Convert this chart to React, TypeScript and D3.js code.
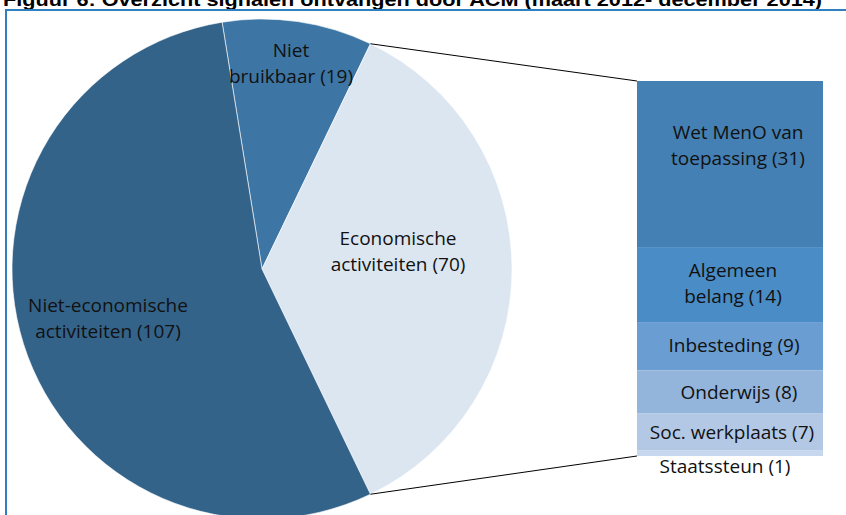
import React from "react";
import * as d3 from "d3";

const pieLabels = ["Niet bruikbaar (19)", "Economische activiteiten (70)", "Niet-economische activiteiten (107)"];
const pieValues = [19, 70, 107];
const pieColors = ["#3d76a4", "#dce6f1", "#34638a"];

const barLabels = ["Wet MenO van toepassing (31)", "Algemeen belang (14)", "Inbesteding (9)", "Onderwijs (8)", "Soc. werkplaats (7)", "Staatssteun (1)"];
const barValues = [31, 14, 9, 8, 7, 1];
const barColors = ["#4480b3", "#4a8cc5", "#6a9dd1", "#93b4db", "#b2c8e4", "#c7d7ed"];

const titleText = "Figuur 6: Overzicht signalen ontvangen door ACM (maart 2012- december 2014)";

const W = 846, H = 515;
const FONT = "'Open Sans', Lato, sans-serif";

export default function App() {
  const cx = 262, cy = 269, R = 250;
  const total = d3.sum(pieValues);
  const otherIdx = 1;
  const otherSpan = (pieValues[otherIdx] / total) * 2 * Math.PI;
  const start = Math.PI / 2 - otherSpan / 2 - (pieValues[0] / total) * 2 * Math.PI;
  const pie = d3.pie<number>().sort(null).startAngle(start).endAngle(start + 2 * Math.PI);
  const arcs = pie(pieValues);
  const arc = d3.arc<d3.PieArcDatum<number>>().innerRadius(0).outerRadius(R);

  const barX = 637, barW = 186, barTop = 81, barBottom = 456;
  const cum = d3.cumsum(barValues);
  const y = d3.scaleLinear().domain([0, d3.sum(barValues)]).range([barTop, barBottom]);

  const oa = arcs[otherIdx];
  const p1 = [cx + R * Math.sin(oa.startAngle), cy - R * Math.cos(oa.startAngle)];
  const p2 = [cx + R * Math.sin(oa.endAngle), cy - R * Math.cos(oa.endAngle)];

  const pieLabelPos = [
    { x: 291, y: 57, lines: ["Niet", "bruikbaar (19)"] },
    { x: 398, y: 245, lines: ["Economische", "activiteiten (70)"] },
    { x: 108, y: 312, lines: ["Niet-economische", "activiteiten (107)"] },
  ];
  const barLines = [["Wet MenO van", "toepassing (31)"], ["Algemeen", "belang (14)"], ["Inbesteding (9)"], ["Onderwijs (8)"], ["Soc. werkplaats (7)"], ["Staatssteun (1)"]];
  const barLabelPos = [
    { x: 738, y: 139 }, { x: 733, y: 277 }, { x: 734, y: 352 }, { x: 739, y: 399 }, { x: 732, y: 439 }, { x: 725, y: 473 },
  ];

  return (
    <svg width={W} height={H} style={{ position: "absolute", left: 0, top: 0, background: "#fff" }}>
      <text x={3} y={6} fontFamily="Arial, 'Liberation Sans', sans-serif" fontWeight="bold" fontSize={18} fill="#000" textLength={819} lengthAdjust="spacingAndGlyphs">{titleText}</text>
      <rect x={6} y={10} width={W + 10} height={H + 10} fill="none" stroke="#2f7fc1" strokeWidth={2} />
      <g>
        {arcs.map((a, i) => (
          <path key={pieLabels[i]} d={arc(a) || ""} transform={`translate(${cx},${cy})`} fill={pieColors[i]} stroke="#ffffff" strokeWidth={0.6} />
        ))}
      </g>
      <line x1={p1[0]} y1={p1[1]} x2={barX} y2={barTop} stroke="#000" strokeWidth={1} />
      <line x1={p2[0]} y1={p2[1]} x2={barX} y2={barBottom} stroke="#000" strokeWidth={1} />
      <g>
        {barValues.map((v, i) => {
          const y0 = y(cum[i] - v), y1 = y(cum[i]);
          return <rect key={barLabels[i]} x={barX} y={y0} width={barW} height={y1 - y0} fill={barColors[i]} />;
        })}
      </g>
      <g fontFamily={FONT} fontSize={19} fill="#111" textAnchor="middle">
        {pieLabelPos.map((p, i) => (
          <text key={i} x={p.x} y={p.y}>
            {p.lines.map((l, j) => (
              <tspan key={j} x={p.x} y={p.y + j * 26}>{l}</tspan>
            ))}
          </text>
        ))}
        {barLabelPos.map((p, i) => (
          <text key={"b" + i} x={p.x} y={p.y}>
            {barLines[i].map((l, j) => (
              <tspan key={j} x={p.x} y={p.y + j * 26}>{l}</tspan>
            ))}
          </text>
        ))}
      </g>
    </svg>
  );
}
